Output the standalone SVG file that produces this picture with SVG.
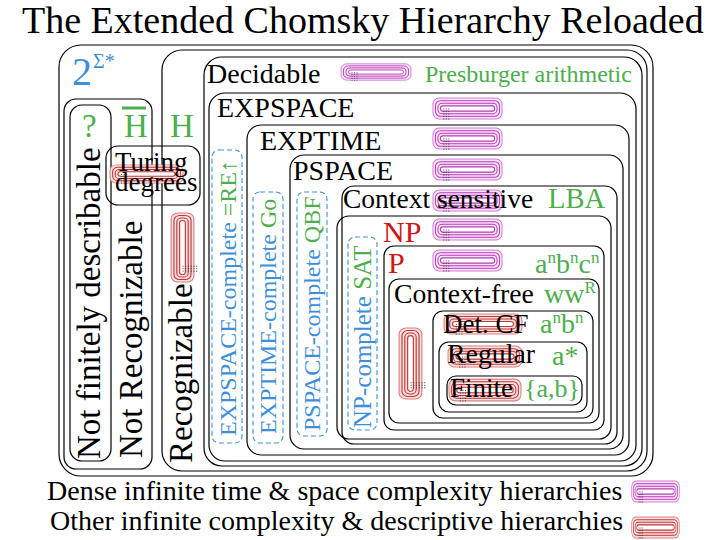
<svg xmlns="http://www.w3.org/2000/svg" width="720" height="540" viewBox="0 0 720 540">
<style>
.t{font-family:"Liberation Serif","Times New Roman",serif;fill:#000}
.b{fill:#3d8fd9}.g{fill:#4cae4c}.r{fill:#d01515}
.box{fill:none;stroke:#000;stroke-width:1.2}
.dash{fill:none;stroke:#3d8fd9;stroke-width:1.1;stroke-dasharray:5 3}
</style>
<defs>
<symbol id="hm" viewBox="0 0 72 22" preserveAspectRatio="none" overflow="visible">
<rect x="1" y="1" width="70" height="20" rx="6" fill="#fbe3fb" stroke="#d37bd3" stroke-width="1"/>
<rect x="3.5" y="3.5" width="65" height="15" rx="5" fill="none" stroke="#b63bb6" stroke-width="1"/>
<rect x="6" y="6" width="60" height="10" rx="4" fill="none" stroke="#b63bb6" stroke-width="1"/>
<rect x="8.5" y="8.5" width="55" height="5" rx="2.5" fill="#fff" stroke="#b63bb6" stroke-width="1"/>
<path d="M12 11V23M14.5 11V23M17 11V23" stroke="#333" stroke-width="0.8" stroke-dasharray="1 1.4"/>
</symbol>
<symbol id="hr" viewBox="0 0 72 22" preserveAspectRatio="none" overflow="visible">
<rect x="1" y="1" width="70" height="20" rx="6" fill="#fbe0e0" stroke="#d98080" stroke-width="1"/>
<rect x="3.5" y="3.5" width="65" height="15" rx="5" fill="none" stroke="#c03535" stroke-width="1"/>
<rect x="6" y="6" width="60" height="10" rx="4" fill="none" stroke="#c03535" stroke-width="1"/>
<rect x="8.5" y="8.5" width="55" height="5" rx="2.5" fill="#fff" stroke="#c03535" stroke-width="1"/>
<path d="M12 11V23M14.5 11V23M17 11V23" stroke="#333" stroke-width="0.8" stroke-dasharray="1 1.4"/>
</symbol>
<symbol id="hrv" viewBox="0 0 22 72" preserveAspectRatio="none" overflow="visible">
<rect x="1" y="1" width="20" height="70" rx="6" fill="#fbe0e0" stroke="#d98080" stroke-width="1"/>
<rect x="3.5" y="3.5" width="15" height="65" rx="5" fill="none" stroke="#c03535" stroke-width="1"/>
<rect x="6" y="6" width="10" height="60" rx="4" fill="none" stroke="#c03535" stroke-width="1"/>
<rect x="8.5" y="8.5" width="5" height="55" rx="2.5" fill="#fff" stroke="#c03535" stroke-width="1"/>
<path d="M11 55H24M11 57.5H24M11 60H24" stroke="#333" stroke-width="0.8" stroke-dasharray="1 1.4"/>
</symbol>
</defs>
<rect width="720" height="540" fill="#fff"/>
<text class="t" x="22" y="33" font-size="38">The Extended Chomsky Hierarchy Reloaded</text>

<g id="all">
<rect class="box" x="59" y="45" width="594" height="431" rx="22"/>
<text class="t b" x="72" y="85" font-size="40">2</text>
<text class="t b" x="93" y="68" font-size="20">Σ*</text>
</g>
<g id="notrecog">
<rect class="box" x="64" y="99" width="88" height="370" rx="12"/>
<text class="t g" x="124" y="137" font-size="33">H</text>
<line x1="122" y1="108" x2="146" y2="108" stroke="#4cae4c" stroke-width="3"/>
<text class="t" font-size="33" transform="translate(142,458) rotate(-90)">Not Recognizable</text>
</g>
<g id="notfinite">
<rect class="box" x="70" y="105" width="41" height="356" rx="12"/>
<text class="t g" x="82" y="137" font-size="33">?</text>
<text class="t" font-size="33" transform="translate(100,459) rotate(-90)">Not finitely describable</text>
</g>
<g id="recog">
<rect class="box" x="162" y="50" width="485" height="421" rx="20"/>
<text class="t g" x="170" y="137" font-size="33">H</text>
<use href="#hrv" x="170" y="212" width="25" height="71"/>
<text class="t" font-size="33" transform="translate(192,463) rotate(-90)">Recognizable</text>
</g>
<g id="turing">
<rect class="box" x="106" y="146" width="94" height="59" rx="12"/>
<use href="#hr" x="109" y="164" width="75" height="20"/>
<text class="t" x="115" y="171" font-size="27">Turing</text>
<text class="t" x="115" y="191" font-size="27">degrees</text>
</g>
<g id="decidable">
<rect class="box" x="204" y="57" width="438" height="409" rx="18"/>
<use href="#hm" x="340" y="63" width="72" height="18"/>
<text class="t" x="207" y="83" font-size="28">Decidable</text>
<text class="t g" x="425" y="82" font-size="24">Presburger arithmetic</text>
</g>
<g id="expspace">
<rect class="box" x="209" y="93" width="427" height="368" rx="16"/>
<use href="#hm" x="432" y="97" width="71" height="23"/>
<text class="t" x="217" y="117" font-size="28">EXPSPACE</text>
</g>
<g id="expspace-complete">
<rect class="dash" x="212" y="150" width="30" height="293" rx="7"/>
<text class="t" font-size="24" transform="translate(236,436) rotate(-90)"><tspan class="b">EXPSPACE-complete</tspan><tspan class="g"> =RE↑</tspan></text>
</g>
<g id="exptime">
<rect class="box" x="247" y="125" width="382" height="330" rx="14"/>
<use href="#hm" x="432" y="127" width="71" height="23"/>
<text class="t" x="260" y="150" font-size="28">EXPTIME</text>
</g>
<g id="exptime-complete">
<rect class="dash" x="253" y="192" width="30" height="251" rx="7"/>
<text class="t" font-size="24" transform="translate(276,434) rotate(-90)"><tspan class="b">EXPTIME-complete</tspan><tspan class="g"> Go</tspan></text>
</g>
<g id="pspace">
<rect class="box" x="290" y="155" width="333" height="294" rx="14"/>
<use href="#hm" x="432" y="158" width="71" height="23"/>
<text class="t" x="293" y="180" font-size="28">PSPACE</text>
</g>
<g id="pspace-complete">
<rect class="dash" x="297" y="192" width="30" height="244" rx="7"/>
<text class="t" font-size="24" transform="translate(320,431) rotate(-90)"><tspan class="b">PSPACE-complete</tspan><tspan class="g"> QBF</tspan></text>
</g>
<g id="cs">
<rect class="box" x="342" y="186" width="275" height="258" rx="12"/>
<use href="#hm" x="432" y="189" width="71" height="23"/>
<text class="t" x="343" y="208" font-size="27.5">Context sensitive</text>
<text class="t g" x="548" y="208" font-size="28.5">LBA</text>
</g>
<g id="np">
<rect class="box" x="337" y="216" width="274" height="223" rx="12"/>
<use href="#hm" x="432" y="218" width="71" height="23"/>
<text class="t r" x="383" y="242" font-size="30">NP</text>
</g>
<g id="np-complete">
<rect class="dash" x="348" y="237" width="29" height="193" rx="7"/>
<text class="t" font-size="25" transform="translate(371,428) rotate(-90)"><tspan class="b">NP-complete</tspan><tspan class="g"> SAT</tspan></text>
</g>
<g id="p">
<rect class="box" x="384" y="246" width="220" height="184" rx="10"/>
<use href="#hm" x="432" y="249" width="71" height="23"/>
<text class="t r" x="388" y="273" font-size="30">P</text>
<text class="t g" x="535" y="273" font-size="28">a<tspan font-size="17" dy="-10">n</tspan><tspan dy="10">b</tspan><tspan font-size="17" dy="-10">n</tspan><tspan dy="10">c</tspan><tspan font-size="17" dy="-10">n</tspan></text>
</g>
<g id="cf">
<rect class="box" x="389" y="279" width="210" height="144" rx="10"/>
<use href="#hrv" x="398" y="327" width="25" height="73"/>
<text class="t" x="394" y="303" font-size="27.7">Context-free</text>
<text class="t g" x="544" y="303" font-size="28">ww<tspan font-size="17" dy="-10">R</tspan></text>
</g>
<g id="detcf">
<rect class="box" x="433" y="311" width="160" height="107" rx="10"/>
<use href="#hr" x="443" y="313" width="80" height="22"/>
<text class="t" x="443" y="333" font-size="27">Det. CF</text>
<text class="t g" x="540" y="333" font-size="28">a<tspan font-size="17" dy="-10">n</tspan><tspan dy="10">b</tspan><tspan font-size="17" dy="-10">n</tspan></text>
</g>
<g id="regular">
<rect class="box" x="439" y="342" width="148" height="70" rx="10"/>
<use href="#hr" x="447" y="345" width="76" height="23"/>
<text class="t" x="447" y="363" font-size="27.8">Regular</text>
<text class="t g" x="552" y="365" font-size="28">a*</text>
</g>
<g id="finite">
<rect class="box" x="447" y="376" width="135" height="29" rx="9"/>
<use href="#hr" x="448" y="378" width="74" height="24"/>
<text class="t" x="450" y="397" font-size="27">Finite</text>
<text class="t g" x="524" y="397" font-size="26">{a,b}</text>
</g>
<g id="connectors"/>
<g id="legend">
<text class="t" x="47" y="500" font-size="28">Dense infinite time &amp; space complexity hierarchies</text>
<use href="#hm" x="631" y="480" width="49" height="23"/>
<text class="t" x="50" y="530" font-size="28">Other infinite complexity &amp; descriptive hierarchies</text>
<use href="#hr" x="631" y="516" width="49" height="23"/>
</g>
</svg>
